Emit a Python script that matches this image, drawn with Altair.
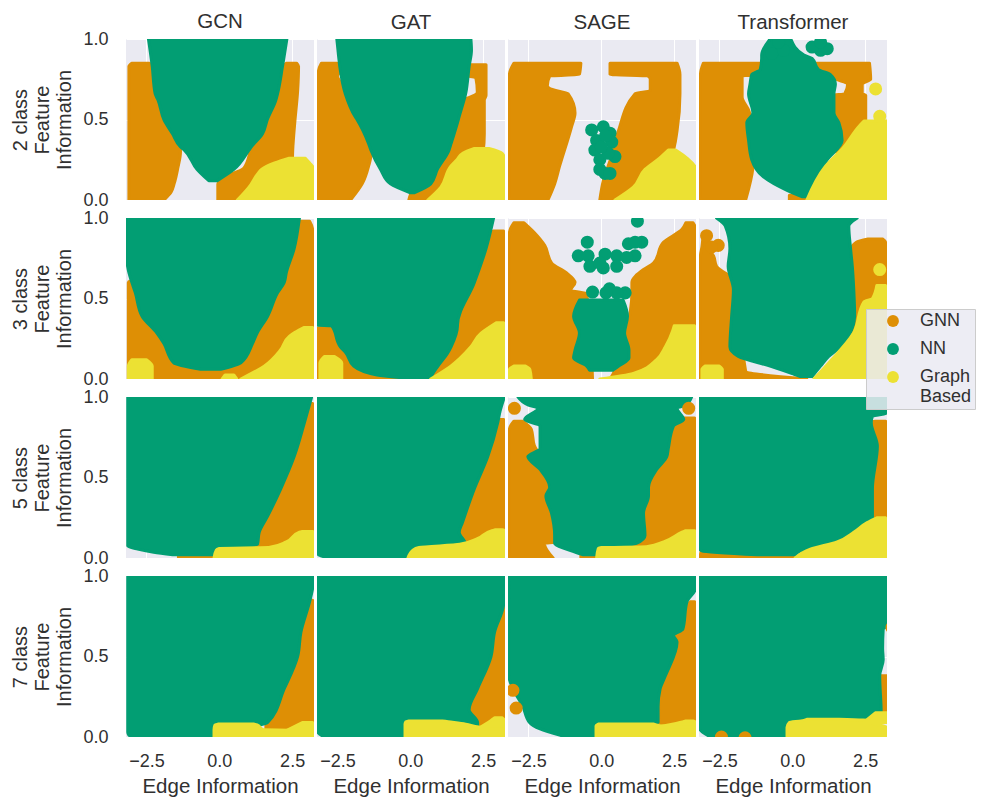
import altair as alt
import pandas as pd

MODELS = ["GCN", "GAT", "SAGE", "Transformer"]
ROWS = ["2 class", "3 class", "5 class", "7 class"]
CLASSES = ["GNN", "NN", "Graph Based"]
COLORS = ["#de8f05", "#029e73", "#ece133"]
X_TICKS = [-2.5, 0.0, 2.5]
Y_TICKS = [0.0, 0.5, 1.0]

# Every region is a list of (feature information, edge-left, edge-right)
C2_GCN = {
 "GNN": [[(0,-3.1,-1.9),(.05,-3.1,-1.65),(.1,-3.1,-1.55),(.2,-3.1,-1.42),(.3,-3.1,-1.33),(.45,-3.1,-1.5),(.6,-3.1,-2.0),(.75,-3.1,-2.2),(.83,-3.1,-2.3),(.85,-3.0,-2.4)],
         [(0,-.05,.7),(.1,-.05,1.1),(.13,.05,1.4),(.2,.85,2.5),(.31,1.08,2.52),(.5,1.5,2.6),(.68,1.9,2.69),(.83,2.17,2.72),(.85,2.3,2.65)]],
 "NN": [[(.12,-.36,-.07),(.19,-.76,.5),(.31,-1.2,1.02),(.33,-1.33,1.1),(.41,-1.6,1.48),(.5,-1.9,1.65),(.62,-2.1,1.94),(.66,-2.2,2.0),(.83,-2.3,2.17),(1,-2.43,2.32)]],
 "Graph Based": [[(0,.62,3.25),(.08,1.02,3.25),(.17,1.35,3.25),(.19,1.45,3.25),(.23,1.9,3.1),(.26,2.4,2.95)]],
}
C2_GAT = {
 "GNN": [[(0,-3.15,-2.05),(.1,-3.15,-1.65),(.21,-3.15,-1.43),(.29,-3.15,-1.34),(.41,-3.15,-1.6),(.62,-3.15,-2.05),(.72,-3.15,-2.34),(.77,-3.15,-2.5),(.8,-3.15,-2.4),(.85,-3.05,-2.5)],
         [(0,-.05,.7),(.03,0,.8),(.2,.9,2.0),(.3,1.0,2.5),(.41,1.2,2.54),(.62,1.8,2.54),(.65,2.2,2.6),(.67,2.3,2.6),(.76,2.25,2.6),(.77,2.0,2.6),(.84,2.05,2.6)]],
 "NN": [[(.045,0,.13),(.1,-.68,.7),(.19,-1.02,.93),(.31,-1.35,1.33),(.35,-1.43,1.4),(.5,-1.83,1.65),(.52,-1.9,1.68),(.66,-2.23,1.9),(.83,-2.42,2.02),(.93,-2.48,2.1),(1,-2.52,2.08)]],
 "Graph Based": [[(0,.6,3.25),(.08,1.05,3.25),(.21,1.39,3.25),(.25,1.6,3.25),(.29,1.8,3.15),(.32,2.2,2.7)]],
}
C2_SAGE = {
 "GNN": [[(0,-3.15,-1.83),(.1,-3.15,-1.6),(.21,-3.15,-1.43),(.455,-3.15,-1.02),(.54,-3.15,-.9),(.66,-3.15,-1.14),(.69,-3.15,-1.75),(.71,-3.15,-1.85),(.77,-3.15,-1.77),(.78,-3.15,-.75),(.85,-3.0,-.7)],
         [(0,-.05,1.0),(.12,.07,1.6),(.27,.35,2.4),(.43,.59,2.6),(.66,1.16,2.7),(.68,1.68,2.7),(.75,1.68,2.7),(.77,1.6,2.7),(.78,.3,2.7),(.85,.3,2.6)]],
 "NN": [],
 "Graph Based": [[(0,.47,3.25),(.08,1.1,3.25),(.19,1.5,3.25),(.26,2.0,2.94),(.31,2.3,2.55)]],
}
C2_TRANS = {
 "GNN": [[(0,-3.15,-1.6),(.2,-3.15,-1.35),(.37,-3.15,-1.3),(.56,-3.15,-1.5),(.64,-3.15,-1.72),(.77,-3.15,-1.72),(.78,-3.15,-1),(.85,-3.05,-1)],
         [(.3,1.0,2.2),(.5,1.3,2.52),(.65,1.4,2.52),(.66,1.8,2.4),(.72,1.9,2.4),(.75,1.5,2.69),(.85,.8,2.65)],
         [(0,-.1,.5),(.03,-.1,.5)]],
 "NN": [[(.02,.35,.45),(.06,-.18,.6),(.145,-1,.85),(.25,-1.39,1.2),(.37,-1.5,1.71),(.48,-1.56,1.6),(.54,-1.35,1.43),(.66,-1.5,1.43),(.72,-1.45,1.48),(.78,-1.39,1.3),(.81,-1.1,.9),(.88,-1.05,.68),(.9,-1.05,.4),(1,-.76,-.05)]],
 "Graph Based": [[(0,.5,3.25),(.21,1.14,3.25),(.33,1.77,3.25),(.46,2.3,3.25),(.49,2.46,3.25)]],
}
C3_GCN = {
 "GNN": [[(0,-3.12,3.2),(.6,-3.12,3.2),(.61,-3.05,3.2),(.62,1.0,3.2),(.93,2.45,3.2),(.98,2.7,3.1)]],
 "NN": [[(.06,-.64,.05),(.1,-1.56,.74),(.22,-1.9,1.14),(.285,-2.14,1.3),(.39,-2.65,1.66),(.535,-2.88,2.0),(.6,-3.0,2.23),(.66,-3.1,2.3),(.81,-3.2,2.57),(1,-3.2,2.75)]],
 "Graph Based": [[(0,-3.12,-2.3),(.08,-3.12,-2.3),(.12,-3.0,-2.5)],[(0,.1,.6),(.025,.2,.5)],
                 [(0,.74,3.25),(.08,1.54,3.25),(.18,2.1,3.25),(.265,2.4,3.25),(.29,2.6,3.25),(.32,2.9,3.2)]],
}
C3_GAT = {
 "GNN": [[(0,-3.15,3.25),(.32,-3.15,3.25),(.33,1,3.25),(.88,2.7,3.25),(.92,2.85,3.2)]],
 "NN": [[(0,.2,.7),(.025,-1.14,.75),(.08,-1.94,.95),(.16,-2.2,1.28),(.2,-2.4,1.4),(.33,-2.7,1.62),(.335,-3.2,1.62),(.6,-3.2,2.2),(.81,-3.2,2.6),(1,-3.2,2.86)]],
 "Graph Based": [[(0,-3.1,-2.35),(.1,-3.1,-2.35),(.14,-2.95,-2.6)],
                 [(0,.7,3.25),(.08,1.39,3.25),(.2,2.08,3.25),(.285,2.43,3.25),(.32,2.7,3.25),(.35,2.95,3.2)]],
}
C3_SAGE = {
 "GNN": [[(0,-3.15,-.3),(.53,-3.15,-.5),(.55,-3.15,-1.05),(.6,-3.15,-.9),(.66,-3.15,-1.2),(.72,-3.15,-1.7),(.83,-3.15,-1.94),(.91,-3.15,-2.3),(.97,-3.0,-2.65)],
         [(0,.3,3.2),(.03,.4,3.25),(.285,.85,3.25),(.53,1.05,3.25),(.6,1.05,3.25),(.68,1.45,3.25),(.72,1.79,3.25),(.85,2.14,3.25),(.93,2.77,3.25),(.97,2.9,3.15)]],
 "NN": [[(.055,-.4,.4),(.08,-.5,.6),(.13,-.95,.95),(.18,-.9,.95),(.285,-.75,.8),(.39,-.95,.9),(.49,-.75,.75)]],
 "Graph Based": [[(0,-3.15,-2.4),(.06,-3.15,-2.45),(.08,-3.0,-2.6)],
                 [(0,-.05,3.25),(.035,1.1,3.25),(.12,1.9,3.25),(.2,2.2,3.25),(.3,2.45,3.25),(.33,2.5,3.2)]],
}
C3_TRANS = {
 "GNN": [[(0,-3.15,.5),(.05,-3.15,-1.6),(.6,-3.15,-1.9),(.7,-3.15,-2.6),(.765,-3.15,-2.7),(.82,-3.1,-2.9),(.91,-3.05,-2.85)],
         [(.2,.9,3.2),(.5,1.9,3.2),(.8,2.0,3.2),(.85,2.2,3.2),(.87,2.6,3.1)]],
 "NN": [[(.015,.28,.68),(.08,-.76,.97),(.14,-1.85,1.25),(.2,-2.14,1.65),(.39,-2.08,2.14),(.555,-2.02,2.11),(.7,-2.2,2.06),(.81,-2.14,2.0),(.95,-2.3,1.94),(1,-2.6,2.23)]],
 "Graph Based": [[(0,-3.1,-2.4),(.06,-3.1,-2.4),(.08,-3.0,-2.5)],
                 [(0,.74,3.25),(.1,1.25,3.25),(.285,2.1,3.25),(.48,2.46,3.25),(.5,2.75,3.25),(.58,2.9,3.2)]],
}
C5_GCN = {
 "GNN": [[(0,-1.4,3.25),(.02,-1.4,3.25),(.03,.5,3.25),(.84,2.7,3.25),(.86,2.9,3.25),(.88,3.05,3.2),(.96,3.05,3.2)]],
 "NN": [[(.02,-1.6,0),(.035,-2.25,.5),(.055,-2.8,.85),(.075,-3.14,1.1),(.085,-3.14,1.31),(.16,-3.14,1.37),(.26,-3.14,1.66),(.43,-3.14,2.11),(.63,-3.14,2.57),(.84,-3.14,2.92),(1,-3.14,3.17)]],
 "Graph Based": [[(0,-.18,3.25),(.05,-.1,3.25),(.06,0,3.25),(.065,1.7,3.25),(.1,2.3,3.25),(.16,2.75,3.25),(.165,2.85,3.2)]],
}
C5_GAT = {
 "GNN": [[(0,-2.0,3.25),(.02,-2.0,3.25),(.03,1,3.25),(.85,2.85,3.25),(.86,3,3.2)]],
 "NN": [[(.005,-2.9,-.05),(.02,-3.15,0),(.04,-3.17,.4),(.06,-3.17,1.1),(.085,-3.17,1.9),(.16,-3.17,1.68),(.22,-3.17,1.79),(.43,-3.17,2.2),(.63,-3.17,2.66),(.84,-3.17,3.0),(.91,-3.17,3.08),(1,-3.17,3.23)]],
 "Graph Based": [[(0,-.08,3.25),(.05,.1,3.25),(.065,.3,3.25),(.085,1.7,3.25),(.12,2.3,3.25),(.17,2.8,3.25),(.175,2.9,3.15)]],
}
C5_SAGE = {
 "GNN": [[(0,-3.15,-1.65),(.09,-3.15,-1.95),(.1,-3.15,-1.6),(.5,-3.15,-1.6),(.7,-3.15,-2.3),(.8,-3.15,-2.4),(.85,-3,-2.7)],
         [(0,-.7,-.2),(.015,-.7,-.2)],
         [(.03,.5,3.25),(.8,2.0,3.25),(.85,2.7,3.25),(.87,2.85,3.2)]],
 "NN": [[(.02,-.62,-.1),(.055,-1.2,.3),(.09,-1.6,1.2),(.14,-1.6,1.5),(.28,-1.71,1.45),(.385,-1.9,1.62),(.44,-1.77,1.62),(.55,-2.1,1.9),(.63,-2.52,2.25),(.68,-2.1,2.3),(.82,-2.1,2.48),(.86,-2.63,2.83),(.93,-2.17,2.6),(.95,-2.5,2.9),(1,-2.86,3.1)]],
 "Graph Based": [[(0,-.16,3.25),(.06,-.1,3.25),(.065,0,3.25),(.07,1.55,3.25),(.1,2.14,3.25),(.16,2.77,3.25),(.17,2.9,3.2)]],
}
C5_TRANS = {
 "GNN": [[(0,-3.15,.2),(.02,-3.15,.1),(.05,-3.1,-2.0)],[(.1,1.9,3.25),(.84,2.6,3.25),(.85,2.85,3.2)]],
 "NN": [[(.02,-1.2,.1),(.045,-3.1,.3),(.055,-3.17,.85),(.1,-3.17,1.88),(.22,-3.17,2.75),(.43,-3.17,2.75),(.695,-3.17,2.92),(.84,-3.17,2.71),(.88,-3.17,2.75),(.9,-3.17,3.25),(1,-3.17,3.25)]],
 "Graph Based": [[(0,.1,3.25),(.055,.62,3.25),(.1,1.54,3.25),(.16,2.11,3.25),(.22,2.57,3.25),(.25,2.9,3.2)]],
}
C7_GCN = {
 "GNN": [[(.03,1.6,3.25),(.07,1.6,3.25),(.3,2.2,3.25),(.8,2.95,3.25),(.85,3.1,3.2)]],
 "NN": [[(.01,-3.1,-.1),(.03,-3.14,0),(.07,-3.14,1.3),(.09,-3.14,1.66),(.3,-3.14,2.23),(.5,-3.14,2.69),(.65,-3.14,2.8),(.84,-3.14,3.1),(.92,-3.14,3.2),(1,-3.14,3.25)]],
 "Graph Based": [[(0,-.18,3.25),(.04,-.18,3.25),(.045,-.18,1.5),(.075,-.15,1.3),(.08,-.05,1.2)],[(.04,2.3,3.25),(.09,2.85,3.2)]],
}
C7_GAT = {
 "GNN": [[(.05,2.3,3.25),(.15,1.95,3.25),(.3,2.2,3.25),(.8,3.0,3.25),(.83,3.15,3.25)]],
 "NN": [[(.005,-3.0,-.1),(.03,-3.17,0),(.06,-3.17,2.31),(.09,-3.17,2.31),(.17,-3.17,2.02),(.3,-3.17,2.31),(.5,-3.17,2.77),(.65,-3.17,2.89),(.82,-3.17,3.2),(1,-3.17,3.25)]],
 "Graph Based": [[(0,-.18,3.25),(.05,-.18,3.25),(.06,-.18,2.4),(.08,-.18,1.9),(.095,-.15,1.3),(.1,-.05,1.1)],[(.05,2.3,3.25),(.1,2.75,3.25),(.12,2.9,3.15)]],
}
C7_SAGE = {
 "GNN": [[(.06,1.95,3.25),(.38,2.1,3.25),(.59,2.5,3.25),(.7,2.7,3.25),(.83,3.0,3.25),(.84,3.05,3.2)]],
 "NN": [[(.01,-1.4,-.2),(.05,-2.1,.1),(.09,-2.46,1.95),(.19,-2.69,1.95),(.3,-3.03,2.02),(.38,-3.17,2.2),(.59,-3.17,2.6),(.63,-3.17,2.48),(.67,-3.17,2.8),(.84,-3.17,2.94),(.92,-3.17,3.23),(1,-3.2,3.25)]],
 "Graph Based": [[(0,-.18,3.25),(.06,-.18,3.25),(.07,-.18,2.0),(.08,-.1,1.8)],[(.06,1.9,3.25),(.09,2.7,3.25),(.1,2.9,3.15)]],
}
C7_TRANS = {
 "GNN": [[(.12,3.05,3.25),(.38,3.0,3.25)]],
 "NN": [[(.01,-2.9,-.2),(.05,-3.17,0),(.1,-3.17,2.4),(.15,-3.17,3.05),(.38,-3.17,3.0),(.48,-3.17,3.12),(.55,-3.17,3.1),(.67,-3.17,3.12),(.69,-3.17,3.25),(1,-3.17,3.25)]],
 "Graph Based": [[(0,-.18,3.25),(.06,-.18,3.25),(.09,-.1,2.7),(.1,.3,2.8),(.11,.5,1.6)],[(.09,2.45,3.25),(.15,2.85,3.25)]],
}

# Separate markers: (class, edge information, feature information)
DOTS = {
 (0, 2): [("NN",-.33,.435),("NN",.07,.455),("NN",.3,.415),("NN",-.16,.37),("NN",.36,.36),("NN",-.22,.31),("NN",.47,.27),("NN",-.05,.25),("NN",.24,.29),("NN",.13,.165),("NN",-.05,.19),("NN",.3,.165),("NN",0,.33),("NN",.15,.4)],
 (0, 3): [("NN",.97,.93),("NN",.68,.95),("NN",1.2,.94),("NN",.97,.98),("NN",-.7,.91),("NN",-.3,.93),("NN",-.47,.98),("Graph Based",2.86,.69),("Graph Based",3.0,.52)],
 (1, 2): [("NN",-.3,.54),("NN",.28,.56),("NN",.82,.535),("NN",.53,.535),("NN",.16,.535),("NN",-.79,.765),("NN",-.45,.765),("NN",.13,.775),("NN",.53,.765),("NN",1.16,.765),("NN",.87,.755),("NN",-.39,.70),("NN",.07,.69),("NN",.53,.70),("NN",-.05,.72),("NN",-.48,.85),("NN",.93,.84),("NN",1.39,.85),("NN",1.16,.85),("NN",1.24,.98)],
 (1, 3): [("GNN",-2.94,.89),("GNN",-2.54,.83),("GNN",-2.77,.82),("Graph Based",3.0,.68)],
 (2, 2): [("GNN",-2.98,.93),("GNN",3.0,.93)],
 (3, 2): [("GNN",-2.92,.18),("GNN",-3.03,.29)],
 (3, 3): [("GNN",-2.43,0),("GNN",-1.62,-.005),("GNN",3.42,.68)],
}

GRID = [[C2_GCN, C2_GAT, C2_SAGE, C2_TRANS],
        [C3_GCN, C3_GAT, C3_SAGE, C3_TRANS],
        [C5_GCN, C5_GAT, C5_SAGE, C5_TRANS],
        [C7_GCN, C7_GAT, C7_SAGE, C7_TRANS]]

TEXT = "#303030"
FONT = "Liberation Sans"
x_dom = [-3.2, 3.25]


def panel(r, c):
    show_x = r == 3
    show_y = c == 0
    xax = alt.Axis(values=X_TICKS, format=".1f", labels=show_x, domain=False, ticks=False, grid=True,
                   gridColor="white", title="Edge Information" if show_x else None, labelPadding=15,
                   labelFontSize=18, titleFontSize=20.5, titleFont=FONT, labelFont=FONT,
                   labelColor=TEXT, titleColor=TEXT, titleFontWeight="normal", titlePadding=6)
    yax = alt.Axis(values=Y_TICKS, format=".1f", labels=show_y, domain=False, ticks=False, grid=True,
                   gridColor="white", title=[ROWS[r], "Feature", "Information"] if show_y else None,
                   labelPadding=18, labelFontSize=18, titleFontSize=20, titleFont=FONT, labelFont=FONT,
                   labelColor=TEXT, titleColor=TEXT, titleFontWeight="normal", titleLineHeight=22,
                   titlePadding=8)
    X = alt.X("x:Q", scale=alt.Scale(domain=x_dom, nice=False, zero=False), axis=xax)
    Y = alt.Y("y:Q", scale=alt.Scale(domain=[0, 1], nice=False), axis=yax)
    layers = []
    for cls, col in zip(CLASSES, COLORS):
        for blob in GRID[r][c][cls]:
            rows = [{"y": y, "x": x0, "x1": x1} for y, x0, x1 in blob]
            layers.append(
                alt.Chart(pd.DataFrame(rows))
                .mark_area(orient="horizontal", color=col, stroke=col, strokeWidth=3, interpolate="monotone",
                           strokeJoin="round", clip=True, opacity=1)
                .encode(x=X, x2="x1:Q", y=Y)
            )
    dots = DOTS.get((r, c))
    if dots:
        legend = None
        if (r, c) == (3, 3):
            legend = alt.Legend(
                orient="none", legendX=167, legendY=-267, title=None, symbolType="circle",
                symbolSize=140, labelFontSize=18, labelFont=FONT, labelColor=TEXT,
                fillColor="rgba(234,234,242,0.85)", strokeColor="#cccccc", padding=3,
                rowPadding=10, symbolOffset=15, labelOffset=18, labelLimit=200,
                labelExpr="datum.label == 'Graph Based' ? ['Graph', 'Based'] : datum.label",
            )
        layers.append(
            alt.Chart(pd.DataFrame(dots, columns=["cls", "x", "y"]))
            .mark_circle(size=170, opacity=1, clip=True)
            .encode(x=X, y=Y, color=alt.Color("cls:N", scale=alt.Scale(domain=CLASSES, range=COLORS), legend=legend))
        )
    title = alt.TitleParams(MODELS[c], fontSize=20.5, font=FONT, fontWeight="normal", color=TEXT,
                            offset=-2 if c == 0 else 6) if r == 0 else ""
    return alt.layer(*layers).properties(width=188, height=161, title=title)


panels = [panel(r, c) for r in range(4) for c in range(4)]
chart = (
    alt.concat(*panels, columns=4, spacing={"row": 18, "column": 3}, bounds="flush", padding={"left": 2, "top": 3, "right": 0, "bottom": 0})
    .resolve_scale(color="independent", x="independent", y="independent")
    .configure_view(fill="#eaeaf2", stroke=None)
)
chart.save("out.html", embed_options={"renderer": "svg", "actions": False})
